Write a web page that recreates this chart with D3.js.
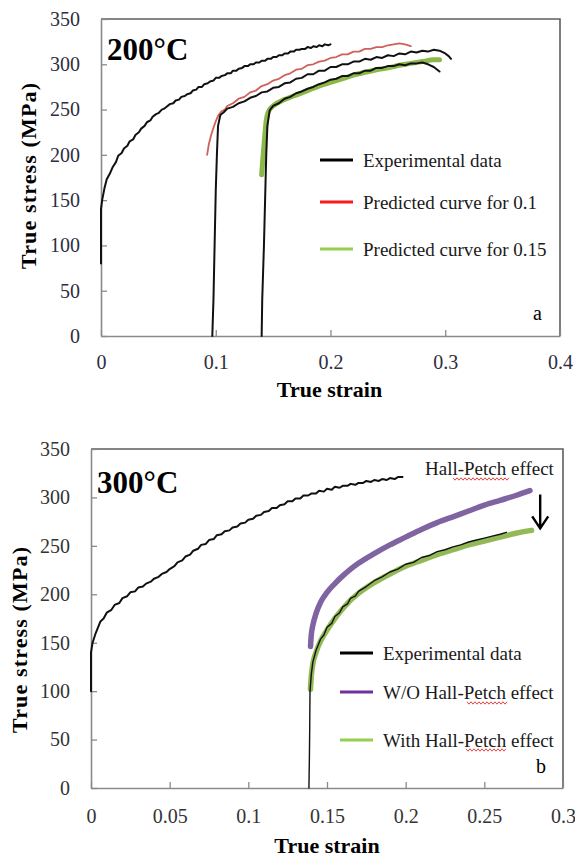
<!DOCTYPE html>
<html>
<head>
<meta charset="utf-8">
<script src="https://cdn.jsdelivr.net/npm/d3@7"></script>
<style>
  body { margin: 0; background: #fff; }
  svg text { font-family: "Liberation Serif", "Times New Roman", serif; }
</style>
</head>
<body>
<div id="chart"></div>
<script>
// ---- panel a (200°C) : [true strain, true stress] ----
const aExp1 = [[0,80],[0,140],[0.001,150],[0.003,163],[0.005,173],[0.008,180],[0.01,186],[0.013,192],[0.015,199],[0.018,202],[0.02,207],[0.023,210],[0.025,215],[0.028,217],[0.03,222],[0.033,225],[0.035,229],[0.038,232],[0.04,236],[0.043,238],[0.045,242],[0.048,245],[0.05,246],[0.053,250],[0.055,251],[0.058,254],[0.06,256],[0.063,257],[0.065,260],[0.068,261],[0.07,264],[0.073,265],[0.075,267],[0.078,268],[0.08,271],[0.083,272],[0.085,275],[0.088,275],[0.09,278],[0.093,279],[0.095,281],[0.098,282],[0.1,285],[0.103,285],[0.105,287],[0.108,288],[0.11,290],[0.113,290],[0.115,293],[0.118,293],[0.12,295],[0.123,296],[0.125,298],[0.128,298],[0.13,300],[0.133,300],[0.135,302],[0.138,302],[0.14,304],[0.143,304],[0.145,306],[0.148,306],[0.15,308],[0.153,308],[0.155,310],[0.158,310],[0.16,312],[0.163,312],[0.165,314],[0.168,314],[0.17,316],[0.173,316],[0.175,317],[0.178,317],[0.18,319],[0.183,318],[0.185,320],[0.188,319],[0.19,321],[0.193,320],[0.195,322],[0.198,321],[0.2,322]];

const aExp2 = [[0.097,0],[0.098,40],[0.099,100],[0.1,160],[0.101,200],[0.102,232],[0.104,244],[0.107,247],[0.11,251],[0.115,253],[0.12,257],[0.125,259],[0.13,263],[0.135,265],[0.14,269],[0.145,270],[0.15,274],[0.155,275],[0.16,279],[0.165,280],[0.17,284],[0.175,285],[0.18,289],[0.185,289],[0.19,293],[0.195,293],[0.2,297],[0.205,297],[0.21,300],[0.215,300],[0.22,303],[0.225,303],[0.23,306],[0.235,305],[0.24,308],[0.245,307],[0.25,310],[0.255,309],[0.26,312],[0.265,311],[0.27,314],[0.275,313],[0.28,315],[0.285,314],[0.29,316],[0.295,315],[0.3,312],[0.303,309],[0.305,306]];

const aPred01 = [[0.0925,200],[0.094,212],[0.096,222],[0.098,230],[0.1,237],[0.102,243],[0.105,248],[0.108,250],[0.11,254],[0.115,257],[0.12,262],[0.125,264],[0.13,269],[0.135,271],[0.14,276],[0.145,278],[0.15,282],[0.155,284],[0.16,288],[0.165,290],[0.17,294],[0.175,295],[0.18,299],[0.185,300],[0.19,303],[0.195,304],[0.2,307],[0.205,308],[0.21,311],[0.215,311],[0.22,314],[0.225,314],[0.23,317],[0.235,317],[0.24,319],[0.245,319],[0.25,321],[0.255,322],[0.26,323],[0.265,322],[0.27,320]];

const aExp3 = [[0.14,0],[0.1405,40],[0.141,60],[0.142,100],[0.143,150],[0.144,200],[0.145,232],[0.147,249],[0.15,254],[0.155,257],[0.16,262],[0.165,264],[0.17,268],[0.175,270],[0.18,273],[0.185,275],[0.19,278],[0.195,280],[0.2,283],[0.205,284],[0.21,287],[0.215,287],[0.22,290],[0.225,290],[0.23,293],[0.235,293],[0.24,296],[0.245,296],[0.25,298],[0.255,298],[0.26,300],[0.265,299],[0.27,301],[0.275,301],[0.28,302],[0.285,300],[0.29,297],[0.295,292]];

const aPred015 = [[0.14,178],[0.141,195],[0.142,210],[0.143,225],[0.144,238],[0.146,248],[0.15,254],[0.16,261],[0.17,266],[0.18,271],[0.19,276],[0.2,280],[0.21,284],[0.22,288],[0.23,291],[0.24,294],[0.25,296],[0.26,299],[0.27,301],[0.28,303],[0.29,305],[0.295,305]];

// ---- panel b (300°C) ----
const bExp1 = [[0,100],[0,140],[0.001,150],[0.003,160],[0.006,172],[0.008,175],[0.01,181],[0.013,184],[0.015,189],[0.018,191],[0.02,196],[0.023,198],[0.025,202],[0.028,203],[0.03,207],[0.033,208],[0.035,211],[0.038,213],[0.04,216],[0.043,218],[0.045,221],[0.048,223],[0.05,226],[0.053,229],[0.055,233],[0.058,235],[0.06,239],[0.063,241],[0.065,245],[0.068,247],[0.07,251],[0.073,252],[0.075,256],[0.078,257],[0.08,261],[0.083,262],[0.085,265],[0.088,266],[0.09,269],[0.093,270],[0.095,273],[0.098,274],[0.1,277],[0.103,278],[0.105,281],[0.108,282],[0.11,285],[0.113,286],[0.115,289],[0.118,289],[0.12,292],[0.123,293],[0.125,296],[0.128,296],[0.13,299],[0.133,299],[0.135,302],[0.138,302],[0.14,304],[0.143,304],[0.145,307],[0.148,306],[0.15,309],[0.153,308],[0.155,311],[0.158,310],[0.16,312],[0.163,312],[0.165,314],[0.168,313],[0.17,315],[0.173,315],[0.175,317],[0.178,316],[0.18,318],[0.183,317],[0.185,319],[0.188,318],[0.19,320],[0.193,319],[0.195,321],[0.198,321]];

const bNoHP = [[0.1395,146],[0.14,158],[0.141,168],[0.143,180],[0.146,192],[0.15,202],[0.155,211],[0.16,219],[0.165,226],[0.17,232],[0.18,242],[0.19,251],[0.2,259],[0.21,267],[0.22,274],[0.23,280],[0.24,286],[0.25,292],[0.26,297],[0.27,302],[0.279,307]];

const bWithHP = [[0.1395,102],[0.14,115],[0.141,128],[0.143,140],[0.146,152],[0.15,163],[0.155,175],[0.16,185],[0.165,194],[0.17,201],[0.18,212],[0.19,221],[0.2,229],[0.21,235],[0.22,241],[0.23,246],[0.24,251],[0.25,255],[0.26,259],[0.27,263],[0.28,266]];

const bExp2 = [[0.1385,0],[0.1388,30],[0.139,60],[0.1392,100],[0.14,117],[0.141,130],[0.143,142],[0.146,154],[0.148,158],[0.15,166],[0.153,170],[0.155,177],[0.158,181],[0.16,187],[0.163,190],[0.165,196],[0.168,198],[0.17,203],[0.175,208],[0.18,214],[0.185,218],[0.19,223],[0.195,226],[0.2,231],[0.205,233],[0.21,238],[0.215,240],[0.22,244],[0.225,246],[0.23,249],[0.235,251],[0.24,254],[0.245,256],[0.25,258],[0.255,260],[0.26,262],[0.264,264]];

const yTicks = [0, 50, 100, 150, 200, 250, 300, 350];
const aXTicks = [0, 0.1, 0.2, 0.3, 0.4];
const bXTicks = [0, 0.05, 0.1, 0.15, 0.2, 0.25, 0.3];

const aLegend = ["Experimental data", "Predicted curve for 0.1", "Predicted curve for 0.15"];
const bLegend = ["Experimental data", "W/O Hall-Petch effect", "With Hall-Petch effect"];

const svg = d3.select("#chart").append("svg")
    .attr("width", 575)
    .attr("height", 859);

function drawPanel(p) {
    let x = d3.scaleLinear().domain(p.xDomain).range([p.left, p.right]);
    let y = d3.scaleLinear().domain([0, 350]).range([p.bottom, p.top]);
    let g = svg.append("g");

    // frame top/right
    g.append("path")
        .attr("d", `M${p.left},${p.top}H${p.right}V${p.bottom}`)
        .attr("fill", "none").attr("stroke", "#5e5e5e").attr("stroke-width", 1.6);

    // axes, ticks pointing inside
    let xAxis = g.append("g").attr("transform", `translate(0,${p.bottom})`)
        .call(d3.axisBottom(x).tickValues(p.xTicks).tickFormat(d => String(d))
            .tickSizeInner(-6).tickSizeOuter(0).tickPadding(p.xPad));
    let yAxis = g.append("g").attr("transform", `translate(${p.left},0)`)
        .call(d3.axisLeft(y).tickValues(yTicks).tickSizeInner(-6).tickSizeOuter(0).tickPadding(21));
    [xAxis, yAxis].forEach(a => {
        a.attr("font-family", "Liberation Serif").attr("font-size", 20);
        a.select(".domain").attr("stroke", "#8a8a8a").attr("stroke-width", 1.6);
        a.selectAll(".tick line").attr("stroke", "#8a8a8a").attr("stroke-width", 1.3);
        a.selectAll(".tick text").attr("fill", p.tickColor);
    });

    // axis titles
    g.append("text")
        .attr("x", (p.left + p.right) / 2 + p.xTitleShift).attr("y", p.xTitleY)
        .attr("text-anchor", "middle").attr("font-weight", "bold").attr("font-size", 22)
        .text("True strain");
    g.append("text")
        .attr("transform", `translate(${p.yTitleX},${p.yTitleY}) rotate(-90)`)
        .attr("text-anchor", "middle").attr("font-weight", "bold").attr("font-size", 22)
        .attr("textLength", 186).attr("lengthAdjust", "spacing")
        .text("True stress (MPa)");

    // temperature label
    g.append("text")
        .attr("x", p.left + 6).attr("y", p.tempY)
        .attr("font-weight", "bold").attr("font-size", 31)
        .text(p.temp);

    // panel letter
    g.append("text")
        .attr("x", p.right - 27).attr("y", p.letterY)
        .attr("font-size", 20).text(p.letter);

    let plot = g.append("g");
    p.series.forEach(s => {
        let line = d3.line().x(d => x(d[0])).y(d => y(d[1]))
            .curve(s.smooth ? d3.curveMonotoneX : d3.curveLinear);
        plot.append("path")
            .datum(s.data)
            .attr("d", line)
            .attr("fill", "none")
            .attr("stroke", s.color)
            .attr("stroke-width", s.width)
            .attr("stroke-linejoin", "round")
            .attr("stroke-linecap", "round");
    });

    // legend
    let leg = g.append("g");
    p.legend.forEach((t, i) => {
        leg.append("line")
            .attr("x1", p.legX).attr("x2", p.legX + 33)
            .attr("y1", p.legY[i]).attr("y2", p.legY[i])
            .attr("stroke", p.legColors[i]).attr("stroke-width", 3);
        leg.append("text")
            .attr("x", p.legX + 43).attr("y", p.legY[i] + 7)
            .attr("font-size", 19).attr("fill", "#1a1a1a")
            .text(t);
    });

    return {x, y, g};
}

const a = drawPanel({
    xDomain: [0, 0.4], xTicks: aXTicks,
    left: 101, right: 560, top: 19, bottom: 336,
    xPad: 19, tickColor: "#2d2d40",
    xTitleY: 397, xTitleShift: -1, yTitleX: 36, yTitleY: 176,
    temp: "200°C", tempY: 60, letter: "a", letterY: 320,
    series: [
        {data: aExp1, color: "#111", width: 2},
        {data: aPred01, color: "#d0605c", width: 1.8},
        {data: aExp2, color: "#111", width: 2},
        {data: aPred015, color: "#8cb84a", width: 5, smooth: true},
        {data: aExp3, color: "#111", width: 2}
    ],
    legend: aLegend, legX: 320, legY: [160, 202, 249],
    legColors: ["#000", "#ff1a1a", "#92d050"]
});

const b = drawPanel({
    xDomain: [0, 0.3], xTicks: bXTicks,
    left: 91, right: 563, top: 449, bottom: 788,
    xPad: 21, tickColor: "#333",
    xTitleY: 853, xTitleShift: 0, yTitleX: 27, yTitleY: 640,
    temp: "300°C", tempY: 493, letter: "b", letterY: 773,
    series: [
        {data: bExp1, color: "#111", width: 2},
        {data: bNoHP, color: "#8064a2", width: 5.5, smooth: true},
        {data: bWithHP, color: "#93b956", width: 5.5, smooth: true},
        {data: bExp2, color: "#111", width: 1.4}
    ],
    legend: bLegend, legX: 340, legY: [653, 692, 740],
    legColors: ["#000", "#7030a0", "#92d050"]
});

// Hall-Petch annotation and arrow
b.g.append("text")
    .attr("x", 425).attr("y", 475)
    .attr("font-size", 19).attr("fill", "#1a1a1a")
    .text("Hall-Petch effect");

const ax = b.x(0.2855), ay0 = b.y(303), ay1 = b.y(268);
b.g.append("path")
    .attr("d", `M${ax},${ay0}V${ay1}M${ax - 8},${ay1 - 12}L${ax},${ay1}L${ax + 8},${ay1 - 12}`)
    .attr("fill", "none").attr("stroke", "#000").attr("stroke-width", 2.4);

// spell-check squiggles under "Petch"
function squiggle(x0, x1, yy) {
    let pts = [];
    for (let xx = x0, k = 0; xx <= x1; xx += 2, k++) pts.push([xx, yy + (k % 2 ? 1.2 : -1.2)]);
    b.g.append("path").attr("d", d3.line()(pts))
        .attr("fill", "none").attr("stroke", "#e03030").attr("stroke-width", 0.9);
}
squiggle(453, 509, 479);
squiggle(467, 507, 703);
squiggle(466, 507, 750);
</script>
</body>
</html>
